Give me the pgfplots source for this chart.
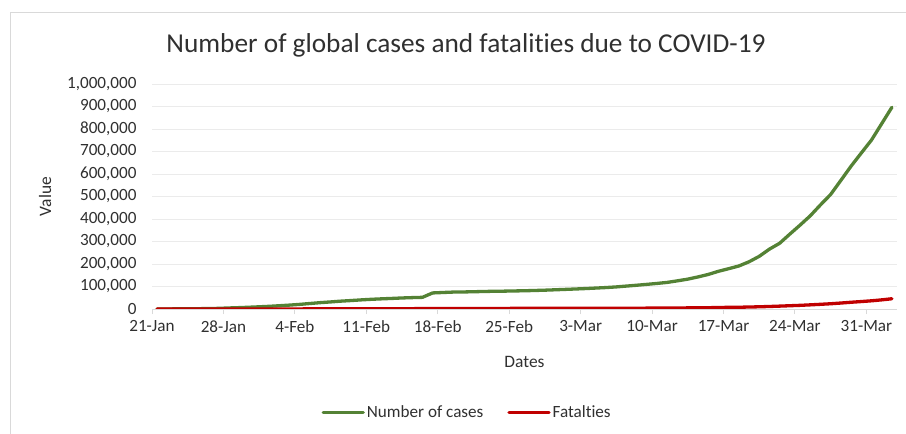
\documentclass[border=0pt]{standalone}
\usepackage{fontspec}
\setmainfont[Ligatures=CommonOff]{Carlito}
\usepackage{pgfplots}
\usepackage{pgfplotstable}
\pgfplotsset{compat=1.18}

\definecolor{casegreen}{RGB}{84,130,53}
\definecolor{deathred}{RGB}{192,0,0}
\definecolor{txtgray}{RGB}{48,48,48}
\definecolor{axgray}{RGB}{217,217,217}
\definecolor{gridgray}{RGB}{235,235,235}

% day index: 0 = 21-Jan, 72 = 2-Apr (WHO situation reports)
\pgfplotstableread{
day value
0 282
1 314
2 581
3 846
4 1320
5 2014
6 2798
7 4593
8 6065
9 7818
10 9826
11 11953
12 14557
13 17391
14 20630
15 24554
16 28276
17 31481
18 34886
19 37558
20 40554
21 43103
22 45171
23 46997
24 49053
25 50580
26 51857
27 71429
28 73332
29 75204
30 75748
31 76769
32 77794
33 78811
34 79331
35 80239
36 81109
37 82294
38 83652
39 85403
40 87137
41 88948
42 90870
43 93090
44 95324
45 98192
46 101927
47 105586
48 109577
49 113702
50 118319
51 125260
52 132758
53 142539
54 153517
55 167515
56 179111
57 191127
58 209839
59 234073
60 266073
61 292142
62 332930
63 372757
64 414179
65 462684
66 509164
67 571678
68 634835
69 693224
70 750890
71 823626
72 896450
}\casetab

\pgfplotstableread{
day value
0 6
1 6
2 18
3 25
4 41
5 56
6 80
7 106
8 132
9 170
10 213
11 259
12 305
13 362
14 426
15 492
16 565
17 638
18 724
19 813
20 910
21 1018
22 1115
23 1369
24 1383
25 1526
26 1669
27 1775
28 1873
29 2009
30 2129
31 2247
32 2360
33 2462
34 2618
35 2699
36 2762
37 2804
38 2858
39 2924
40 2977
41 3043
42 3112
43 3198
44 3285
45 3380
46 3486
47 3584
48 3809
49 4012
50 4292
51 4613
52 4947
53 5393
54 5735
55 6606
56 7426
57 7807
58 8778
59 9840
60 11184
61 12784
62 14510
63 16231
64 18440
65 20834
66 23335
67 26494
68 29957
69 33106
70 36405
71 40598
72 45526
}\deathtab

\begin{document}
\begin{tikzpicture}
\useasboundingbox (0,0) rectangle (906bp,434bp);
% chart area border (partly cut off in the reference)
\draw[axgray, line width=1bp] (10bp,0) -- (10bp,421bp) -- (906bp,421bp);

\node[text=txtgray, font=\fontsize{27.4}{31}\selectfont] at (466bp,389bp)
  {Number of global cases and fatalities due to COVID-19};

\begin{axis}[
    at={(152bp,125bp)}, anchor=south west,
    scale only axis,
    width=745bp, height=225bp,
    xmin=-0.5, xmax=72.5,
    ymin=0, ymax=1000000,
    xtick={-0.5,6.5,13.5,20.5,27.5,34.5,41.5,48.5,55.5,62.5,69.5},
    xticklabels={21-Jan,28-Jan,4-Feb,11-Feb,18-Feb,25-Feb,3-Mar,10-Mar,17-Mar,24-Mar,31-Mar},
    ytick={0,100000,...,1000000},
    scaled y ticks=false,
    /pgf/number format/fixed,
    /pgf/number format/1000 sep={,},
    /pgf/number format/assume math mode=true,
    axis x line*=bottom,
    axis y line*=left,
    y axis line style={draw=none},
    x axis line style={draw=axgray, line width=1bp},
    xtick align=outside,
    xtick style={draw=axgray, line width=1bp},
    ytick style={draw=none},
    major tick length=5bp,
    ymajorgrids,
    grid style={draw=gridgray, line width=0.8bp},
    tick label style={text=txtgray, font=\fontsize{17.2}{20}\selectfont},
    xticklabel style={yshift=-3bp},
    yticklabel style={xshift=-12bp},
    xlabel={Dates}, ylabel={Value},
    label style={text=txtgray, font=\fontsize{17.5}{21}\selectfont},
    xlabel style={at={(axis description cs:0.5,-0.2356)}, anchor=center},
    ylabel style={at={(axis description cs:-0.1436,0.5)}, anchor=center},
    legend columns=2,
    legend style={at={(axis description cs:0.423,-0.461)}, anchor=center,
        draw=none, fill=none, text=txtgray,
        font=\fontsize{17.2}{20}\selectfont,
        /tikz/every even column/.append style={column sep=22bp}},
    legend image code/.code={\draw[#1] (0bp,0bp) -- (40bp,0bp);},
    every axis plot/.append style={line width=3.3bp, line join=round, line cap=round},
]
\addplot[casegreen] table[x=day, y=value] {\casetab};
\addlegendentry{Number of cases}
\addplot[deathred] table[x=day, y=value] {\deathtab};
\addlegendentry{Fatalties}
\end{axis}
\end{tikzpicture}
\end{document}
